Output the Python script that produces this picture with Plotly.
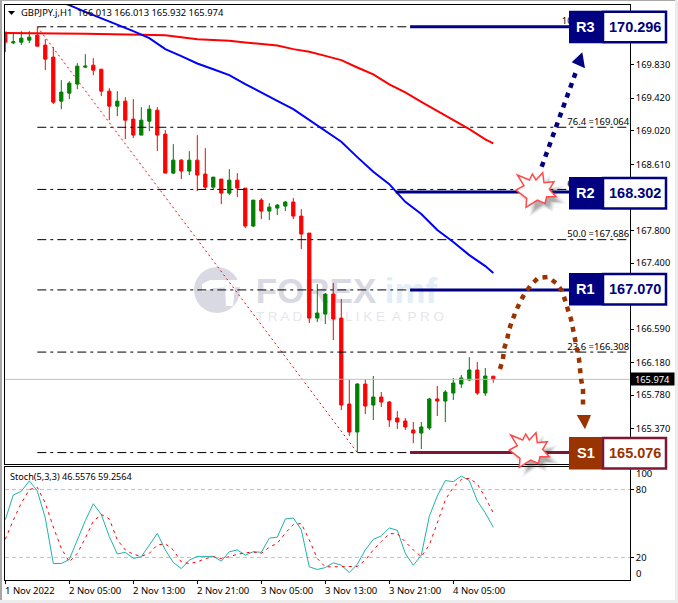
import plotly.graph_objects as go

W, H = 678, 603

# candles, one hour per bar
opens = [170.230,170.099,170.107,170.132,170.193,170.071,169.924,169.384,169.482,169.593,169.801,169.825,169.776,169.507,169.323,169.384,169.164,168.968,169.139,169.274,168.980,168.502,168.661,168.527,168.661,168.490,168.330,168.429,168.257,168.416,168.318,167.853,168.171,168.036,168.073,168.098,168.147,167.975,167.767,166.725,166.774,167.019,166.725,165.671,165.328,165.916,165.659,165.757,165.696,165.500,165.463,165.353,165.316,165.377,165.733,165.708,165.806,165.916,165.966,166.088,165.806,166.013]
highs = [170.230,170.230,170.242,170.242,170.291,170.144,170.046,169.642,169.629,169.850,169.960,169.911,169.776,169.544,169.507,169.433,169.409,169.311,169.335,169.311,169.029,168.857,168.674,168.772,168.968,168.808,168.453,168.429,168.551,168.502,168.318,168.171,168.196,168.134,168.122,168.159,168.196,168.061,167.767,167.142,167.032,167.154,166.958,165.978,165.929,165.978,166.015,165.818,165.708,165.586,165.500,165.451,165.451,165.745,165.892,165.843,165.990,166.027,166.247,166.186,166.113,166.013]
lows = [169.985,170.083,170.071,170.095,170.058,169.764,169.348,169.286,169.409,169.531,169.789,169.703,169.446,169.151,169.200,168.919,168.931,168.968,169.017,168.772,168.502,168.490,168.429,168.478,168.281,168.306,168.294,168.122,168.233,168.208,167.828,167.840,167.938,167.926,167.987,168.036,167.938,167.571,166.664,166.676,166.652,166.456,165.598,165.279,165.083,165.549,165.475,165.635,165.390,165.365,165.353,165.193,165.120,165.353,165.524,165.451,165.720,165.867,165.953,165.782,165.769,165.932]
closes = [170.107,170.111,170.156,170.169,170.058,169.899,169.372,169.495,169.605,169.813,169.813,169.764,169.507,169.323,169.384,169.151,168.968,169.151,169.286,168.968,168.502,168.661,168.527,168.661,168.478,168.330,168.453,168.257,168.416,168.318,167.853,168.171,168.036,168.085,168.110,168.147,167.975,167.755,166.725,166.786,167.019,166.713,165.659,165.328,165.916,165.647,165.757,165.696,165.475,165.451,165.390,165.316,165.390,165.733,165.708,165.818,165.929,165.990,166.088,165.806,166.015,165.974]
bars = list(range(len(opens)))

# moving averages
blue_ma_bars = [7,8,10,12,14,16,18,20,22,24,26,28,30,32,34,36,38,40,42,44,46,48,50,52,54,56,58,60,61]
blue_ma = [170.597,170.561,170.479,170.401,170.321,170.242,170.156,170.022,169.936,169.846,169.776,169.703,169.593,169.495,169.388,169.286,169.151,169.017,168.886,168.698,168.518,168.367,168.150,168.000,167.804,167.657,167.497,167.362,167.277]
red_ma_bars = [0,4,10,17,20,24,28,30,32,34,36,38,40,42,44,46,48,50,52,54,56,58,60,61]
red_ma = [170.221,170.218,170.209,170.197,170.193,170.144,170.126,170.104,170.086,170.067,170.022,169.989,169.939,169.887,169.797,169.712,169.589,169.491,169.376,169.262,169.151,169.041,168.915,168.866]

# fibonacci retracement, 38.2 and 0.0 labels sit behind the boxes so they stay blank
fib_names = ["100.0", "76.4", "61.8", "50.0", "38.2", "23.6", "0.0"]
fib_levels = [170.296, 169.064, 168.302, 167.686, 167.070, 166.308, 165.076]
fib_hidden = ["38.2", "0.0"]
fib_bars = [4, 44]
fib_diag = [170.296, 165.076]
last_price = 165.974

# support / resistance
level_names = ["R3", "R2", "R1", "S1"]
level_values = [170.296, 168.302, 167.070, 165.076]
level_lines = [170.296, 168.270, 167.070, 165.076]
level_start = [50.6, 48.8, 50.6, 50.6]

# stochastic
stoch_main = [53.4,75.2,78.5,87.8,78.8,54.9,14.6,14.6,18.2,35.5,52.5,67.5,57.9,38.5,23,24.5,19.1,20.6,31,41.2,26.6,15.5,10.1,17.6,20.9,20.9,20.9,16.7,25,26.6,22,25,24.5,37,37.9,54,54.9,44.5,11.6,9.3,11,15.2,13.1,6.6,14,26.6,36,39,46,44,23.6,13,22,56.4,74.3,88,87,92,88,70,59.4,46.6]
stoch_signal = [36,53,68,80,82,68,47,28,16,23.6,37,52,58,54,35.5,26.6,22.7,21,23.6,31,32,26.6,16,14.6,16,19,20.6,19,20.6,22.7,24,24.8,23.6,29,32.5,41.5,49,50,35.5,19,11.6,11.6,12,11.6,12,17.6,26.6,34,41,41,34,26.6,20.6,31,50.4,71,82,89,90,85,73,59.3]

# price ticks under the boxes keep their mark but show no text
price_ticks = [170.24,169.83,169.42,169.02,168.61,168.21,167.80,167.40,166.99,166.59,166.18,165.78,165.37]
price_labels = ["","169.830","169.420","169.020","168.610","","167.800","167.400","","166.590","166.180","165.780","165.370"]
time_bars = [0,8,16,24,32,40,48,56]
time_labels = ["1 Nov 2022","2 Nov 05:00","2 Nov 13:00","2 Nov 21:00","3 Nov 05:00","3 Nov 13:00","3 Nov 21:00","4 Nov 05:00"]

NAVY = "#000080"
BROWN = "#993300"
MAROON = "#7f1734"
FONT = "Noto Sans"

# panel edges in pixels
LEFT, RIGHT = 5, 630
MAIN_TOP, MAIN_BOTTOM = 4.5, 464
SUB_TOP, SUB_BOTTOM = 467, 580
x_range = [(LEFT - 5.3) / 8, (RIGHT - 5.3) / 8]
y_range = [164.936, 170.569]


def px(x):
    return x / W


def py(y):
    return 1 - y / H


def path(points, close=False):
    d = "M " + " L ".join(f"{px(x):.5f},{py(y):.5f}" for x, y in points)
    return d + " Z" if close else d


def label(x, y, text, size=9.5, color="black", anchor="center", family=FONT, **kw):
    base = dict(xref="paper", yref="paper", x=px(x), y=py(y), text=text, showarrow=False, xanchor=anchor, yanchor="middle",
                font=dict(family=family, size=size, color=color))
    base.update(kw)
    return base


fig = go.Figure()

# watermark text sits on the base subplot, below the candles
fig.add_trace(go.Scatter(x=[316], y=[294], mode="text", text=["<b>FOREX</b>"], xaxis="x3", yaxis="y3",
                         textfont=dict(family="Liberation Sans", size=35, color="#d9d9e4"), hoverinfo="skip"))
fig.add_trace(go.Scatter(x=[411], y=[294], mode="text", text=["<b>imf</b>"], xaxis="x3", yaxis="y3",
                         textfont=dict(family="Liberation Sans", size=35, color="#e3eef7"), hoverinfo="skip"))
fig.add_trace(go.Scatter(x=[350], y=[318], mode="text", text=["T R A D I N G  L I K E  A  P R O"], xaxis="x3", yaxis="y3",
                         textfont=dict(family="Liberation Sans", size=13.5, color="#e6e6ec"), hoverinfo="skip"))

fig.add_trace(go.Candlestick(x=bars, open=opens, high=highs, low=lows, close=closes,
                             increasing=dict(line=dict(color="#007f00", width=1), fillcolor="#007f00"),
                             decreasing=dict(line=dict(color="#ff0000", width=1), fillcolor="#ff0000"),
                             whiskerwidth=0, hoverinfo="skip"))

# fib levels and labels
for lvl in fib_levels:
    fig.add_trace(go.Scatter(x=[fib_bars[0], x_range[1]], y=[lvl, lvl], mode="lines",
                             line=dict(color="black", width=1, dash="9px,4px,3px,4px"), hoverinfo="skip"))
fig.add_trace(go.Scatter(x=[x_range[1] - 0.1] * len(fib_levels), y=fib_levels, mode="text",
                         text=["" if n in fib_hidden else f"{n} ={v:.3f}" for n, v in zip(fib_names, fib_levels)],
                         textposition="top left", textfont=dict(family=FONT, size=9.5, color="black"), hoverinfo="skip"))
fig.add_trace(go.Scatter(x=fib_bars, y=fib_diag, mode="lines",
                         line=dict(color="#ff0000", width=1, dash="2px,3px"), hoverinfo="skip"))

fig.add_trace(go.Scatter(x=x_range, y=[last_price, last_price], mode="lines",
                         line=dict(color="#c0c0c0", width=1), hoverinfo="skip"))
fig.add_trace(go.Scatter(x=red_ma_bars, y=red_ma, mode="lines", line=dict(color="#ff0000", width=2), hoverinfo="skip"))
fig.add_trace(go.Scatter(x=blue_ma_bars, y=blue_ma, mode="lines", line=dict(color="#0000ff", width=2), hoverinfo="skip"))

for name, lvl, start in zip(level_names, level_lines, level_start):
    fig.add_trace(go.Scatter(x=[start, 70.6], y=[lvl, lvl], mode="lines", hoverinfo="skip",
                             line=dict(color=MAROON if name == "S1" else NAVY, width=3)))

# stochastic panel
for lvl in [80, 20]:
    fig.add_trace(go.Scatter(x=x_range, y=[lvl, lvl], mode="lines", xaxis="x2", yaxis="y2",
                             line=dict(color="#c0c0c0", width=1, dash="4px,3px"), hoverinfo="skip"))
fig.add_trace(go.Scatter(x=bars, y=stoch_main, mode="lines", xaxis="x2", yaxis="y2",
                         line=dict(color="#20b2aa", width=1), hoverinfo="skip"))
fig.add_trace(go.Scatter(x=bars, y=stoch_signal, mode="lines", xaxis="x2", yaxis="y2",
                         line=dict(color="#ff0000", width=1, dash="3px,4px"), hoverinfo="skip"))

shapes = []

# outer window edge
shapes.append(dict(type="rect", xref="paper", yref="paper", x0=0, x1=px(2), y0=0, y1=1, fillcolor="#a8a8a8", line_width=0))
shapes.append(dict(type="rect", xref="paper", yref="paper", x0=0, x1=1, y0=py(1), y1=1, fillcolor="#a8a8a8", line_width=0))
shapes.append(dict(type="rect", xref="paper", yref="paper", x0=px(675), x1=1, y0=0, y1=1, fillcolor="#ececec", line_width=0))
shapes.append(dict(type="rect", xref="paper", yref="paper", x0=0, x1=1, y0=0, y1=py(600), fillcolor="#ececec", line_width=0))

# watermark logo
shapes.append(dict(type="circle", xref="paper", yref="paper", layer="below", x0=px(194), x1=px(240), y0=py(313), y1=py(267),
                   fillcolor="#d9d9e4", line_width=0))
shapes.append(dict(type="path", xref="paper", yref="paper", layer="below", fillcolor="white", line_width=0,
                   path=path([(202, 284), (210, 280), (240, 280), (240, 287), (214, 288), (202, 292)], True)))
shapes.append(dict(type="path", xref="paper", yref="paper", layer="below", fillcolor="white", line_width=0,
                   path=path([(225, 287), (235, 287), (233, 306), (226, 306)], True)))

# dotted arrows
up_arrow = [(541.7, 166.7), (576, 71.7)]
curve = [(500, 369), (503, 359), (504, 349), (507, 340), (509, 330), (512, 321), (516, 311), (520, 302), (525, 293),
         (531, 285), (538, 278), (548, 277), (556, 283), (562, 291), (565, 300), (568, 310), (571, 319), (573, 329),
         (575, 339), (577, 349), (579, 359), (580, 369), (581, 379), (583, 389), (583, 399), (583, 410)]
shapes.append(dict(type="path", xref="paper", yref="paper", path=path(up_arrow),
                   line=dict(color=NAVY, width=4.5, dash="5px,5.5px")))
shapes.append(dict(type="path", xref="paper", yref="paper", path=path([(582.3, 52.3), (571.7, 62.3), (585, 68.3)], True),
                   fillcolor=NAVY, line_width=0))
shapes.append(dict(type="path", xref="paper", yref="paper", path=path(curve),
                   line=dict(color=BROWN, width=4.5, dash="5px,5.5px")))
shapes.append(dict(type="path", xref="paper", yref="paper", path=path([(576.7, 415), (591, 415), (585, 429.3)], True),
                   fillcolor=BROWN, line_width=0))

# burst stars with a soft shadow
star = [(-19.3,-16.7),(-7.3,-11.7),(-4.3,-17.7),(-0.7,-11.7),(6,-19),(7.3,-9),(17.3,-10),(12.7,-2.3),
        (19.3,5),(10,5),(8.3,11.7),(0.7,8.3),(-10.7,15.7),(-10,6.7),(-20.7,-1.7),(-12.7,-6)]
for cx, cy in [(536.7, 191.7), (530, 451.7)]:
    for scale, alpha in [(1.25, 0.05), (1.12, 0.08), (1.0, 0.10), (0.88, 0.12), (0.75, 0.14)]:
        shapes.append(dict(type="path", xref="paper", yref="paper", line_width=0, fillcolor=f"rgba(60,60,60,{alpha})",
                           path=path([(cx + 6 + a * scale, cy + 6 + b * scale) for a, b in star], True)))
    shapes.append(dict(type="path", xref="paper", yref="paper", fillcolor="white", line=dict(color="#ff4a4a", width=1.5),
                       path=path([(cx + a, cy + b) for a, b in star], True)))

# level boxes
box_tops = [10.7, 177, 273, 437]
annotations = []
for name, val, top in zip(level_names, level_values, box_tops):
    support = name.startswith("S")
    fill = BROWN if support else NAVY
    edge = MAROON if support else NAVY
    shapes.append(dict(type="rect", xref="paper", yref="paper", x0=px(603), x1=px(666), y0=py(top + 31.5), y1=py(top + 1),
                       fillcolor="white", line=dict(color=edge, width=2.5)))
    shapes.append(dict(type="rect", xref="paper", yref="paper", x0=px(569), x1=px(602), y0=py(top + 32.5), y1=py(top),
                       fillcolor=fill, line_width=0))
    annotations.append(label(585.5, top + 16, f"<b>{name}</b>", 14.5, "white", family="Liberation Sans"))
    annotations.append(label(634.5, top + 16, f"<b>{val:.3f}</b>", 14.5, fill, family="Liberation Sans"))

# chart header
shapes.append(dict(type="path", xref="paper", yref="paper", path=path([(8, 11), (15, 11), (11.5, 15)], True),
                   fillcolor="black", line_width=0))
annotations.append(label(19, 12.5, "GBPJPY.j,H1&nbsp;&nbsp;166.013 166.013 165.932 165.974", 9.4, anchor="left"))
annotations.append(label(8, 476, "Stoch(5,3,3) 46.5576 59.2564", 9.1, anchor="left"))

# time labels start at their tick
for b, lab in zip(time_bars, time_labels):
    annotations.append(dict(xref="x2", yref="paper", x=b, y=py(590), xanchor="left", yanchor="middle", xshift=-2, showarrow=False,
                            text=lab, font=dict(family=FONT, size=9.5, color="black")))

# current price tag, fixed stoch bounds
annotations.append(dict(xref="paper", yref="y", x=px(652.5), y=last_price, xanchor="center", yanchor="middle", showarrow=False,
                        text=f"{last_price:.3f}", bgcolor="black", width=41, height=10, font=dict(family=FONT, size=9.3, color="white")))
annotations.append(label(634, 473, "100", anchor="left"))
annotations.append(label(634, 573, "0", anchor="left"))

x_dom = [px(LEFT), px(RIGHT)]
main_dom = [py(MAIN_BOTTOM), py(MAIN_TOP)]
frame = dict(showline=True, mirror=True, linecolor="black", linewidth=1, showgrid=False, zeroline=False)

fig.update_layout(
    width=W, height=H, margin=dict(l=0, r=0, t=0, b=0), autosize=False,
    paper_bgcolor="white", plot_bgcolor="white", showlegend=False, boxgap=0.42,
    font=dict(family=FONT, size=9.3, color="black"),
    xaxis3=dict(domain=x_dom, range=[LEFT, RIGHT], visible=False, anchor="y3"),
    yaxis3=dict(domain=main_dom, range=[MAIN_BOTTOM, MAIN_TOP], visible=False, anchor="x3"),
    xaxis=dict(domain=x_dom, range=x_range, overlaying="x3", anchor="y", showticklabels=False, ticks="",
               rangeslider=dict(visible=False), **frame),
    yaxis=dict(domain=main_dom, range=y_range, overlaying="y3", anchor="x", side="right", tickmode="array",
               tickvals=price_ticks, ticktext=price_labels, ticks="outside", ticklen=3,
               tickcolor="black", **frame),
    xaxis2=dict(domain=x_dom, range=x_range, anchor="y2", tickmode="array", tickvals=time_bars, ticktext=[""] * len(time_bars),
                ticks="outside", ticklen=3, tickcolor="black", **frame),
    yaxis2=dict(domain=[py(SUB_BOTTOM), py(SUB_TOP)], range=[0, 100], anchor="x2", side="right", tickmode="array",
                tickvals=[80, 20], ticktext=["80", "20"], ticks="outside", ticklen=3, tickcolor="black", **frame),
    shapes=shapes, annotations=annotations,
)

fig.write_html("out.html", config=dict(displayModeBar=False), post_script="document.body.style.margin='0';")
